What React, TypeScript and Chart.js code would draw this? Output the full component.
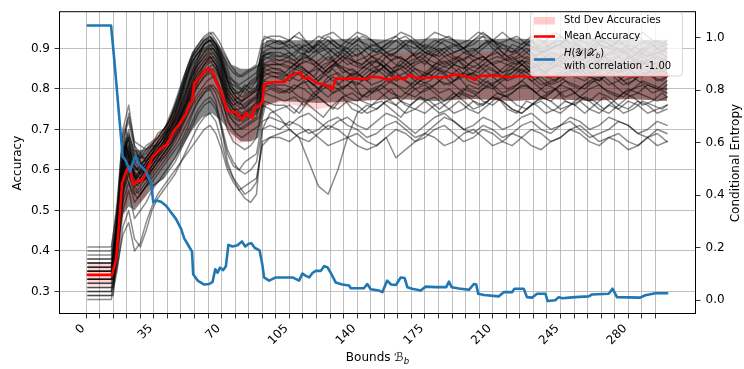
import React, { useEffect, useRef } from 'react';
import { Chart, registerables } from 'chart.js';
Chart.register(...registerables);

const FONT = "'DejaVu Sans', sans-serif";

// ---------- x positions (bounds) of the individual runs ----------
const RUN_X = [1, 13, 16, 19, 22, 25, 28, 31, 34, 37, 40, 43, 46, 49, 52, 55, 58, 61, 64, 67, 70, 73, 76, 79, 82, 85, 88, 91, 95,
  100, 105, 110, 115, 120, 125, 130, 135, 140, 145, 150, 155, 160, 165, 170, 175, 180, 185, 190, 195, 200,
  205, 210, 215, 220, 225, 230, 235, 240, 245, 250, 255, 260, 265, 270, 275, 280, 285, 290, 295, 300];
const RUN_XB = [1, 14, 17.5, 20.5, 23.5, 26.5, 29.5, 32.5, 35.5, 38.5, 41.5, 44.5, 47.5, 50.5, 53.5, 56.5, 59.5, 62.5, 65.5, 68.5,
  71.5, 74.5, 77.5, 80.5, 83.5, 86.5, 89.5, 92, 97.5, 102.5, 107.5, 112.5, 117.5, 122.5, 127.5, 132.5, 137.5, 142.5, 147.5, 152.5,
  157.5, 162.5, 167.5, 172.5, 177.5, 182.5, 187.5, 192.5, 197.5, 202.5, 207.5, 212.5, 217.5, 222.5, 227.5, 232.5, 237.5, 242.5, 247.5,
  252.5, 257.5, 262.5, 267.5, 272.5, 277.5, 282.5, 287.5, 292.5, 297.5, 300];

// ---------- individual run accuracies (percent), sampled at RUN_X ----------
const RUN_C01 = [34, 34, 45, 62, 66, 60, 61, 63, 65, 66, 68, 71, 74, 78, 83, 88, 90, 92, 93, 91, 88, 84, 80, 79, 81, 80, 82, 90, 91,
  92, 90, 91, 89, 92, 90, 88, 91, 93, 90, 89, 91, 92, 90, 88, 90, 92, 91, 89, 90, 92, 93, 90, 88, 91, 90, 92, 89, 90, 91, 93, 90, 89, 91, 90, 92, 90, 88, 90, 91, 90];
const RUN_C02 = [36, 36, 47, 65, 70, 63, 62, 60, 64, 67, 69, 70, 73, 76, 80, 85, 88, 91, 92, 90, 86, 80, 78, 76, 78, 79, 80, 88, 89,
  88, 89, 87, 90, 91, 89, 86, 88, 90, 87, 85, 88, 89, 91, 88, 86, 89, 90, 88, 87, 89, 91, 92, 89, 87, 88, 90, 89, 86, 88, 90, 91, 88, 87, 89, 90, 88, 86, 87, 89, 88];
const RUN_C03 = [33, 33, 42, 58, 63, 59, 58, 61, 63, 65, 66, 69, 72, 75, 79, 84, 87, 89, 90, 88, 84, 78, 76, 77, 75, 77, 78, 86, 87,
  86, 85, 87, 88, 86, 84, 87, 89, 86, 85, 84, 86, 88, 87, 85, 83, 86, 88, 86, 85, 87, 88, 86, 84, 86, 87, 85, 86, 88, 87, 85, 84, 86, 87, 85, 84, 86, 85, 87, 86, 85];
const RUN_C04 = [35, 35, 44, 60, 64, 58, 60, 62, 64, 64, 67, 70, 72, 74, 77, 82, 85, 87, 88, 86, 82, 76, 74, 73, 74, 75, 76, 84, 85,
  85, 83, 86, 84, 82, 85, 86, 84, 83, 85, 87, 85, 82, 83, 85, 84, 86, 87, 85, 83, 84, 86, 85, 83, 84, 86, 84, 85, 83, 84, 86, 85, 83, 82, 84, 86, 85, 83, 84, 85, 84];
const RUN_C05 = [38, 38, 50, 68, 72, 65, 63, 64, 66, 69, 70, 72, 75, 79, 85, 89, 91, 93, 94, 92, 89, 86, 84, 83, 84, 85, 86, 92, 93,
  93, 92, 94, 91, 93, 92, 90, 92, 94, 93, 91, 92, 93, 91, 90, 92, 94, 93, 92, 90, 91, 93, 92, 94, 92, 91, 93, 92, 90, 91, 93, 92, 91, 93, 92, 91, 92, 93, 91, 92, 91];
const RUN_C06 = [32, 32, 40, 55, 60, 56, 57, 58, 61, 63, 65, 67, 70, 73, 76, 80, 83, 86, 87, 85, 82, 77, 75, 74, 73, 74, 75, 82, 83,
  83, 82, 84, 82, 80, 83, 84, 82, 81, 83, 85, 83, 81, 80, 82, 84, 83, 81, 82, 84, 83, 81, 80, 82, 83, 85, 83, 81, 82, 83, 81, 80, 82, 83, 81, 82, 84, 82, 81, 80, 82];
const RUN_C07 = [34, 34, 46, 63, 68, 62, 64, 66, 67, 68, 70, 72, 76, 80, 84, 87, 89, 90, 91, 89, 85, 79, 77, 78, 80, 79, 80, 87, 88,
  87, 88, 86, 87, 89, 90, 88, 86, 87, 88, 90, 88, 86, 85, 87, 89, 88, 86, 87, 89, 90, 88, 86, 87, 88, 86, 85, 87, 89, 88, 86, 87, 88, 89, 87, 86, 88, 87, 86, 88, 87];
const RUN_C08 = [31, 31, 39, 54, 59, 54, 55, 57, 60, 62, 64, 66, 69, 72, 75, 79, 82, 84, 85, 83, 79, 74, 72, 71, 72, 73, 74, 80, 81,
  80, 79, 81, 82, 80, 78, 80, 81, 79, 78, 80, 82, 81, 79, 78, 80, 81, 83, 81, 79, 78, 80, 81, 79, 80, 82, 80, 78, 79, 81, 80, 78, 80, 81, 79, 78, 80, 79, 81, 80, 79];
const RUN_C09 = [37, 37, 48, 66, 74, 67, 66, 65, 66, 66, 68, 70, 73, 77, 82, 86, 88, 91, 92, 91, 88, 83, 82, 81, 82, 83, 84, 89, 90,
  90, 91, 89, 88, 90, 92, 90, 89, 91, 89, 87, 89, 90, 92, 91, 89, 88, 90, 91, 89, 88, 90, 92, 91, 89, 90, 88, 89, 91, 92, 90, 88, 89, 91, 90, 89, 91, 90, 88, 89, 90];
const RUN_C10 = [35, 35, 45, 61, 65, 61, 59, 60, 62, 64, 66, 69, 71, 74, 78, 83, 86, 88, 89, 87, 83, 78, 75, 75, 76, 77, 78, 85, 86,
  86, 87, 85, 84, 86, 88, 86, 85, 84, 86, 87, 85, 83, 84, 86, 87, 85, 84, 86, 85, 87, 88, 86, 84, 85, 87, 86, 84, 85, 86, 88, 86, 84, 85, 86, 84, 85, 87, 86, 84, 85];
const RUN_C11 = [33, 33, 43, 59, 62, 57, 60, 59, 61, 63, 66, 68, 71, 73, 77, 81, 84, 86, 88, 86, 81, 75, 73, 72, 74, 75, 77, 83, 84,
  84, 83, 82, 84, 85, 83, 81, 83, 84, 82, 84, 86, 84, 82, 81, 83, 85, 84, 82, 83, 84, 82, 81, 83, 85, 84, 82, 83, 81, 82, 84, 85, 83, 82, 84, 83, 81, 83, 84, 82, 83];
const RUN_C12 = [40, 40, 52, 69, 73, 66, 64, 62, 64, 65, 67, 71, 74, 78, 83, 87, 89, 91, 92, 90, 87, 82, 81, 80, 79, 81, 82, 88, 89,
  89, 88, 90, 91, 89, 87, 89, 90, 88, 90, 91, 89, 88, 87, 89, 91, 90, 88, 89, 90, 88, 87, 89, 91, 90, 88, 87, 89, 90, 91, 89, 88, 90, 89, 87, 88, 90, 89, 88, 90, 89];
const RUN_C13 = [30, 30, 38, 52, 57, 52, 54, 56, 59, 61, 63, 65, 68, 71, 74, 78, 81, 83, 84, 82, 78, 72, 70, 70, 71, 72, 73, 79, 80,
  79, 80, 78, 77, 79, 81, 80, 78, 77, 79, 80, 78, 76, 78, 80, 81, 79, 77, 78, 80, 79, 77, 76, 78, 79, 81, 80, 78, 77, 79, 80, 78, 77, 79, 78, 76, 78, 79, 78, 77, 78];
const RUN_C14 = [36, 36, 47, 64, 69, 64, 63, 63, 65, 67, 69, 72, 75, 79, 84, 88, 90, 92, 93, 91, 87, 82, 79, 79, 80, 82, 83, 91, 92,
  91, 92, 90, 89, 91, 93, 91, 90, 92, 91, 89, 90, 92, 93, 91, 89, 90, 92, 91, 90, 92, 94, 92, 90, 89, 91, 92, 90, 91, 93, 91, 89, 90, 92, 91, 90, 89, 91, 92, 90, 91];
const RUN_O01 = [29, 29, 37, 50, 55, 48, 50, 52, 55, 57, 59, 61, 63, 66, 69, 72, 75, 77, 78, 76, 71, 65, 62, 60, 62, 63, 64, 72, 73,
  72, 71, 73, 74, 72, 70, 72, 73, 71, 70, 72, 74, 73, 71, 69, 71, 73, 74, 72, 70, 71, 73, 72, 70, 71, 73, 74, 72, 70, 71, 73, 72, 70, 71, 73, 72, 71, 69, 70, 72, 71];
const RUN_O02 = [28, 28, 35, 46, 50, 43, 41, 45, 50, 53, 55, 57, 59, 62, 65, 68, 71, 73, 74, 72, 67, 61, 58, 56, 54, 55, 57, 67, 68,
  68, 67, 69, 70, 68, 66, 67, 68, 66, 65, 66, 68, 63, 65, 67, 69, 68, 66, 67, 69, 70, 68, 66, 67, 69, 68, 66, 65, 67, 68, 70, 69, 67, 66, 68, 67, 65, 66, 68, 66, 67];
const RUN_O03 = [41, 41, 50, 64, 68, 58, 57, 58, 60, 62, 63, 65, 67, 70, 73, 76, 78, 80, 81, 79, 75, 70, 67, 66, 65, 66, 68, 76, 75,
  73, 70, 68, 62, 56, 54, 60, 68, 74, 76, 75, 77, 76, 74, 75, 77, 78, 76, 74, 75, 77, 76, 78, 77, 75, 74, 76, 77, 75, 74, 76, 78, 77, 75, 74, 76, 75, 77, 76, 74, 75];
const RUN_O04 = [39, 39, 46, 58, 62, 55, 54, 56, 57, 59, 61, 63, 65, 67, 70, 74, 77, 79, 80, 77, 70, 62, 58, 55, 53, 52, 54, 70, 74,
  75, 76, 74, 77, 78, 76, 75, 77, 76, 74, 75, 77, 78, 76, 75, 74, 76, 77, 79, 77, 75, 76, 78, 77, 75, 74, 76, 78, 77, 75, 76, 77, 75, 74, 76, 75, 77, 76, 74, 75, 76];
const RUN_O05 = [34, 34, 50, 70, 76, 66, 62, 58, 56, 57, 58, 60, 62, 65, 68, 71, 74, 76, 77, 75, 70, 64, 61, 60, 59, 60, 62, 70, 71,
  70, 72, 71, 69, 70, 72, 73, 71, 70, 68, 69, 71, 72, 70, 68, 69, 71, 73, 72, 70, 69, 71, 70, 68, 69, 71, 72, 70, 69, 71, 72, 70, 68, 69, 70, 72, 71, 69, 68, 70, 69];
const RUN_O06 = [30, 30, 36, 44, 47, 40, 42, 47, 51, 54, 56, 58, 60, 62, 64, 66, 68, 70, 71, 69, 65, 60, 57, 55, 56, 57, 58, 66, 68,
  69, 70, 68, 67, 69, 71, 70, 68, 69, 67, 66, 68, 70, 69, 67, 68, 70, 71, 69, 67, 68, 70, 69, 67, 66, 68, 70, 69, 67, 68, 70, 71, 69, 67, 68, 69, 67, 66, 68, 69, 67];

// ---------- individual run accuracies (percent), sampled at RUN_XB ----------
const RUN_B01 = [35, 35, 58, 70, 64, 62, 64, 66, 67, 69, 71, 74, 78, 83, 87, 90, 92, 93, 94, 92, 89, 86, 84, 83, 84, 85, 86, 93, 92,
  91, 93, 92, 90, 93, 94, 92, 91, 93, 92, 90, 92, 94, 93, 91, 90, 92, 93, 91, 92, 94, 93, 91, 92, 93, 91, 90, 92, 94, 92, 91, 93, 92, 90, 91, 93, 92, 94, 92, 91, 92];
const RUN_B02 = [37, 37, 55, 67, 62, 60, 62, 64, 66, 67, 70, 72, 76, 81, 85, 88, 90, 92, 92, 90, 87, 83, 81, 80, 81, 82, 83, 91, 90,
  90, 88, 91, 89, 90, 92, 90, 88, 89, 91, 90, 88, 90, 92, 91, 89, 88, 90, 91, 89, 90, 92, 90, 88, 89, 91, 90, 89, 91, 90, 88, 89, 91, 92, 90, 89, 88, 90, 91, 89, 90];
const RUN_B03 = [33, 33, 52, 65, 60, 59, 60, 62, 64, 66, 68, 71, 74, 79, 83, 86, 89, 90, 91, 89, 85, 81, 79, 78, 79, 80, 81, 89, 88,
  88, 87, 89, 86, 88, 90, 88, 87, 86, 88, 89, 87, 88, 86, 87, 89, 90, 88, 87, 88, 86, 88, 89, 87, 88, 90, 88, 86, 87, 89, 88, 87, 86, 88, 89, 87, 88, 90, 88, 87, 88];
const RUN_B04 = [36, 36, 54, 66, 61, 58, 61, 63, 65, 66, 68, 70, 73, 77, 82, 85, 88, 90, 90, 88, 84, 80, 78, 77, 78, 79, 80, 88, 87,
  87, 86, 88, 87, 85, 87, 89, 87, 86, 88, 87, 85, 86, 88, 89, 87, 86, 87, 88, 86, 85, 87, 88, 87, 86, 88, 87, 85, 87, 89, 87, 86, 88, 87, 86, 85, 87, 88, 86, 87, 87];
const RUN_B05 = [32, 32, 50, 63, 60, 57, 59, 61, 63, 65, 67, 69, 72, 76, 80, 84, 86, 88, 89, 87, 83, 79, 77, 76, 77, 78, 79, 86, 86,
  86, 85, 87, 86, 84, 86, 88, 86, 85, 87, 86, 84, 85, 87, 88, 86, 85, 86, 87, 85, 84, 86, 87, 86, 85, 87, 86, 84, 86, 88, 86, 85, 87, 86, 85, 84, 86, 87, 85, 86, 86];
const RUN_B06 = [38, 38, 56, 68, 63, 61, 62, 63, 65, 67, 69, 71, 74, 78, 82, 85, 87, 89, 90, 88, 84, 80, 78, 77, 78, 79, 80, 86, 85,
  84, 86, 85, 83, 86, 87, 84, 85, 83, 85, 86, 84, 87, 85, 83, 84, 86, 85, 87, 84, 83, 85, 84, 86, 87, 85, 83, 84, 86, 85, 84, 86, 83, 85, 87, 86, 84, 83, 85, 84, 85];
const RUN_B07 = [34, 34, 51, 64, 59, 58, 60, 62, 64, 65, 67, 69, 72, 75, 79, 83, 85, 87, 88, 86, 82, 78, 76, 75, 76, 77, 78, 85, 84,
  83, 85, 84, 82, 84, 86, 85, 83, 82, 84, 85, 83, 86, 84, 82, 83, 85, 84, 83, 85, 86, 84, 82, 83, 85, 84, 86, 83, 82, 84, 85, 83, 84, 86, 84, 82, 83, 85, 84, 83, 84];
const RUN_B08 = [35, 35, 53, 66, 60, 57, 59, 61, 63, 64, 66, 68, 71, 74, 78, 82, 84, 86, 87, 85, 81, 77, 75, 74, 75, 76, 77, 84, 83,
  82, 84, 83, 81, 83, 85, 82, 84, 83, 81, 82, 84, 85, 83, 81, 82, 84, 83, 85, 82, 81, 83, 84, 82, 83, 85, 83, 81, 82, 84, 83, 82, 84, 85, 83, 81, 82, 84, 83, 82, 83];
const RUN_B09 = [31, 31, 48, 61, 57, 55, 57, 59, 61, 63, 65, 67, 70, 73, 77, 80, 82, 84, 85, 83, 79, 75, 73, 72, 73, 74, 75, 82, 81,
  81, 80, 82, 79, 81, 83, 80, 82, 81, 79, 80, 82, 83, 81, 79, 80, 82, 81, 83, 80, 79, 81, 82, 80, 81, 83, 81, 79, 80, 82, 81, 80, 82, 83, 81, 79, 80, 82, 81, 80, 81];
const RUN_B10 = [37, 37, 54, 66, 62, 60, 61, 62, 63, 65, 67, 69, 72, 75, 78, 81, 83, 85, 86, 84, 80, 76, 74, 73, 74, 75, 76, 81, 80,
  79, 81, 80, 78, 81, 79, 80, 82, 78, 80, 81, 79, 78, 80, 82, 81, 79, 80, 78, 81, 80, 82, 79, 78, 80, 81, 79, 81, 80, 78, 79, 81, 82, 80, 79, 78, 80, 81, 79, 80, 80];
const RUN_B11 = [33, 33, 50, 62, 58, 56, 58, 60, 62, 63, 65, 67, 69, 72, 75, 78, 80, 82, 83, 81, 77, 73, 71, 70, 71, 72, 73, 79, 78,
  77, 78, 76, 79, 77, 75, 78, 79, 77, 76, 78, 80, 77, 76, 78, 77, 75, 77, 79, 78, 76, 77, 79, 78, 76, 75, 77, 78, 80, 77, 76, 78, 77, 75, 77, 79, 78, 76, 77, 79, 78];
const RUN_B12 = [29, 29, 46, 59, 55, 53, 55, 57, 59, 61, 63, 65, 67, 70, 73, 76, 78, 80, 81, 79, 75, 71, 69, 68, 69, 70, 71, 77, 76,
  76, 74, 77, 75, 73, 76, 78, 75, 74, 76, 77, 75, 73, 76, 78, 76, 74, 75, 77, 75, 74, 76, 78, 75, 74, 77, 76, 74, 75, 77, 76, 74, 76, 78, 76, 74, 75, 77, 76, 75, 76];

const RUNS_A = [RUN_C01, RUN_C02, RUN_C03, RUN_C04, RUN_C05, RUN_C06, RUN_C07, RUN_C08, RUN_C09, RUN_C10, RUN_C11, RUN_C12, RUN_C13, RUN_C14,
  RUN_O01, RUN_O02, RUN_O03, RUN_O04, RUN_O05, RUN_O06];
const RUNS_B = [RUN_B01, RUN_B02, RUN_B03, RUN_B04, RUN_B05, RUN_B06, RUN_B07, RUN_B08, RUN_B09, RUN_B10, RUN_B11, RUN_B12];

// ---------- envelope where the many runs overlap densely ----------
const CORE_X = [13, 15, 17, 19, 22, 25, 30, 35, 40, 45, 50, 55, 60, 65, 70, 75, 80, 85, 89, 91, 93, 100, 120, 140, 160, 180, 200, 220, 240, 260, 280, 300];
const CORE_LO = [0.34, 0.37, 0.43, 0.49, 0.51, 0.5, 0.53, 0.56, 0.58, 0.62, 0.66, 0.70, 0.73, 0.74, 0.72, 0.69, 0.67, 0.67, 0.68, 0.72,
  0.76, 0.77, 0.765, 0.77, 0.775, 0.77, 0.775, 0.77, 0.775, 0.77, 0.775, 0.77];
const CORE_HI = [0.36, 0.42, 0.55, 0.65, 0.69, 0.65, 0.65, 0.67, 0.7, 0.76, 0.83, 0.89, 0.92, 0.93, 0.9, 0.86, 0.85, 0.85, 0.86, 0.88,
  0.92, 0.92, 0.92, 0.925, 0.92, 0.925, 0.92, 0.925, 0.92, 0.925, 0.92, 0.92];

// ---------- mean accuracy ----------
const MEAN_X = [1, 13.4, 15.5, 16.8, 18.6, 20.3, 21.5, 22.7, 23.7, 24.5, 26.1, 27.1, 28.4, 29.6, 30.9, 32.3, 34.3, 36.1, 37.8, 39.5,
  41.3, 43.8, 45.5, 48.1, 49.8, 51.6, 53.3, 54.7, 55.9, 57.6, 60.1, 61.9, 62.7, 65.3, 67.0, 69.6, 71.3, 73.0, 75.6, 77.4,
  80.5, 82.8, 84.2, 85.9, 86.8, 89.4, 91.1, 92.0, 94.5, 99.7, 102.3, 104.9, 108.3, 110.9, 111.7, 113.5, 115.2, 116.8, 119.4, 122.0,
  125.5, 127.2, 128.9, 132.3, 135.8, 141, 144.4, 147, 151.3, 156.4, 161.6, 164.2, 166.7, 170.2, 173.6, 180.5, 185.7, 190.8, 194.3, 197.7,
  200.8, 202.8, 211.5, 218.3, 225.2, 228.6, 235, 240, 250, 260, 270, 280, 290, 300];
const MEAN_Y = [0.341, 0.341, 0.38, 0.455, 0.568, 0.592, 0.605, 0.608, 0.576, 0.564, 0.572, 0.574, 0.572, 0.58, 0.592, 0.609, 0.633, 0.64, 0.649, 0.657,
  0.661, 0.681, 0.697, 0.713, 0.725, 0.738, 0.762, 0.77, 0.814, 0.822, 0.838, 0.846, 0.849, 0.842, 0.818, 0.794, 0.77, 0.745, 0.743, 0.743,
  0.725, 0.741, 0.733, 0.729, 0.754, 0.758, 0.77, 0.81, 0.816, 0.817, 0.817, 0.83, 0.838, 0.84, 0.828, 0.826, 0.829, 0.822, 0.814, 0.812,
  0.806, 0.798, 0.826, 0.824, 0.826, 0.825, 0.824, 0.83, 0.829, 0.822, 0.83, 0.822, 0.834, 0.828, 0.827, 0.829, 0.829, 0.836, 0.833, 0.829,
  0.822, 0.832, 0.833, 0.829, 0.832, 0.829, 0.835, 0.831, 0.834, 0.833, 0.835, 0.832, 0.834, 0.833];

// ---------- std dev band ----------
const BAND_X = [1, 13, 16, 19, 22, 25, 28, 31, 34, 37, 40, 43, 46, 49, 52, 55, 58, 61, 64, 67, 70, 73, 76, 79, 82, 85, 88, 91, 95,
  100, 120, 140, 160, 180, 200, 220, 240, 260, 280, 300];
const BAND_LO = [0.315, 0.315, 0.35, 0.47, 0.53, 0.51, 0.52, 0.535, 0.575, 0.6, 0.61, 0.635, 0.66, 0.68, 0.7, 0.75, 0.77, 0.79, 0.8, 0.77,
  0.74, 0.69, 0.675, 0.665, 0.67, 0.67, 0.69, 0.755, 0.76, 0.765, 0.75, 0.77, 0.775, 0.775, 0.775, 0.77, 0.775, 0.77, 0.775, 0.77];
const BAND_HI = [0.37, 0.37, 0.45, 0.59, 0.65, 0.63, 0.63, 0.635, 0.675, 0.69, 0.7, 0.725, 0.75, 0.77, 0.8, 0.85, 0.87, 0.89, 0.895, 0.87,
  0.84, 0.8, 0.795, 0.785, 0.79, 0.79, 0.81, 0.865, 0.87, 0.875, 0.875, 0.885, 0.89, 0.89, 0.89, 0.895, 0.89, 0.895, 0.89, 0.895];

// ---------- conditional entropy ----------
const ENT_X = [1, 12.9, 14.5, 16.5, 18.9, 20.6, 22.7, 24.0, 25.4, 27.1, 29.2, 30.9, 33.5, 34.7, 36.4, 38.7, 41.3, 43.8, 46.4, 49.0,
  50.7, 53.6, 54.7, 55.3, 57.6, 61.0, 63.6, 65.3, 66.7, 67.9, 69.1, 70.8, 72.2, 73.5, 75.6, 78.2, 80.5, 82.2, 84.0, 85.4,
  87.0, 89.6, 91.0, 91.9, 94.5, 98, 106.6, 110, 111.7, 113.5, 115.2, 116.9, 118.6, 121.2, 122.9, 124.6, 126.4, 128.9, 132.3, 135.8,
  136.7, 143.5, 145.2, 147, 151.3, 153, 155.5, 157.5, 160, 162.5, 164.5, 165.9, 168.4, 172.8, 175.4, 180.5, 186, 187.4, 188.8, 192.6,
  197.7, 200.3, 201.5, 202.5, 205.5, 213.2, 215.7, 220, 221.2, 226, 227.7, 230.3, 232.9, 237.2, 238.4, 242.3, 244.1, 246, 249.5, 252.7,
  259.5, 261.3, 269.9, 271.9, 274.2, 286.2, 288.8, 294, 300];
const ENT_Y = [1.046, 1.046, 0.92, 0.75, 0.547, 0.53, 0.49, 0.52, 0.549, 0.52, 0.505, 0.49, 0.447, 0.373, 0.38, 0.375, 0.36, 0.335, 0.31, 0.273,
  0.236, 0.199, 0.186, 0.099, 0.075, 0.06, 0.062, 0.07, 0.118, 0.105, 0.124, 0.115, 0.13, 0.211, 0.205, 0.21, 0.224, 0.205, 0.215, 0.217,
  0.2, 0.19, 0.137, 0.087, 0.075, 0.087, 0.087, 0.075, 0.102, 0.093, 0.087, 0.104, 0.112, 0.112, 0.13, 0.126, 0.104, 0.068, 0.06, 0.056,
  0.046, 0.046, 0.062, 0.042, 0.037, 0.031, 0.075, 0.06, 0.058, 0.087, 0.085, 0.05, 0.044, 0.037, 0.052, 0.05, 0.05, 0.071, 0.05, 0.045,
  0.04, 0.062, 0.06, 0.025, 0.02, 0.015, 0.031, 0.031, 0.044, 0.044, 0.012, 0.01, 0.025, 0.025, -0.003, 0.0, 0.012, 0.008, 0.01, 0.012,
  0.015, 0.022, 0.025, 0.044, 0.012, 0.01, 0.019, 0.027, 0.027];

// ---------- ticks & labels ----------
const X_TICKS = [0, 7, 14, 21, 28, 35, 42, 49, 56, 63, 70, 77, 84, 91, 98, 105, 112, 119, 126, 133, 140, 147, 154, 161, 168, 175,
  182, 189, 196, 203, 210, 217, 224, 231, 238, 245, 252, 259, 266, 273, 280, 287, 294];
const X_LABELED = [0, 35, 70, 105, 140, 175, 210, 245, 280];
const ACC_TICKS = [0.3, 0.4, 0.5, 0.6, 0.7, 0.8, 0.9];
const ENT_TICKS = [0.0, 0.2, 0.4, 0.6, 0.8, 1.0];
const LEGEND_LABELS = ['Std Dev Accuracies', 'Mean Accuracy', 'with correlation -1.00'];
const Y_TITLE = 'Accuracy';
const Y2_TITLE = 'Conditional Entropy';
const X_TITLE = 'Bounds ';

type Part = { t: string; f: string; dy?: number };

function drawRich(ctx: CanvasRenderingContext2D, parts: Part[], x: number, y: number, align: 'left' | 'center') {
  let total = 0;
  const widths = parts.map(p => { ctx.font = p.f; const w = ctx.measureText(p.t).width; total += w; return w; });
  let cx = align === 'center' ? x - total / 2 : x;
  ctx.textAlign = 'left';
  ctx.textBaseline = 'alphabetic';
  parts.forEach((p, i) => { ctx.font = p.f; ctx.fillText(p.t, cx, y + (p.dy || 0)); cx += widths[i]; });
}

const decorPlugin = {
  id: 'mplDecor',
  afterDatasetsDraw(chart: any) {
    const { ctx, chartArea: a } = chart;
    ctx.save();
    ctx.strokeStyle = '#000';
    ctx.lineWidth = 1;
    ctx.strokeRect(a.left + 0.5, a.top - 0.5, a.right - a.left - 1, a.bottom - a.top);
    ctx.restore();
  },
  afterDraw(chart: any) {
    const { ctx, chartArea: a } = chart;
    ctx.save();
    ctx.fillStyle = '#000';
    ctx.font = `12px ${FONT}`;
    ctx.textAlign = 'center';
    ctx.textBaseline = 'middle';
    const cy = (a.top + a.bottom) / 2;
    ctx.save(); ctx.translate(18, cy); ctx.rotate(-Math.PI / 2); ctx.fillText(Y_TITLE, 0, 0); ctx.restore();
    ctx.save(); ctx.translate(736, cy); ctx.rotate(-Math.PI / 2); ctx.fillText(Y2_TITLE, 0, 0); ctx.restore();
    drawRich(ctx, [
      { t: X_TITLE, f: `12px ${FONT}` },
      { t: 'ℬ', f: `italic 12px ${FONT}` },
      { t: 'b', f: `italic 8.5px ${FONT}`, dy: 2.5 },
    ], (a.left + a.right) / 2, 361, 'center');

    // legend
    const bx = 530.5, by = 12.5, bw = 152, bh = 63.5;
    ctx.beginPath();
    (ctx as any).roundRect(bx, by, bw, bh, 3);
    ctx.fillStyle = 'rgba(255,255,255,0.8)';
    ctx.fill();
    ctx.strokeStyle = 'rgba(204,204,204,0.8)';
    ctx.lineWidth = 1;
    ctx.stroke();
    ctx.fillStyle = 'rgba(255,0,0,0.2)';
    ctx.fillRect(534, 17, 21, 7.5);
    ctx.lineWidth = 2.6;
    ctx.strokeStyle = '#ff0000';
    ctx.beginPath(); ctx.moveTo(534, 36.5); ctx.lineTo(555, 36.5); ctx.stroke();
    ctx.strokeStyle = '#1f77b4';
    ctx.beginPath(); ctx.moveTo(534, 59.5); ctx.lineTo(555, 59.5); ctx.stroke();
    ctx.fillStyle = '#000';
    ctx.font = `10px ${FONT}`;
    ctx.textAlign = 'left';
    ctx.textBaseline = 'middle';
    ctx.fillText(LEGEND_LABELS[0], 564, 20.5);
    ctx.fillText(LEGEND_LABELS[1], 564, 36.5);
    drawRich(ctx, [
      { t: 'H', f: `italic 10px ${FONT}` },
      { t: '(', f: `10px ${FONT}` },
      { t: '𝒴', f: `10px ${FONT}` },
      { t: '|', f: `10px ${FONT}` },
      { t: '𝒳', f: `10px ${FONT}` },
      { t: 'b', f: `italic 7px ${FONT}`, dy: 2 },
      { t: ')', f: `10px ${FONT}` },
    ], 564, 56, 'left');
    ctx.textBaseline = 'middle';
    ctx.font = `10px ${FONT}`;
    ctx.fillText(LEGEND_LABELS[2], 564, 66.5);
    ctx.restore();
  },
};

const toPts = (xs: number[], ys: number[], k = 1) => xs.map((x, i) => ({ x, y: ys[i] * k }));

export default function App() {
  const ref = useRef<HTMLCanvasElement>(null);
  useEffect(() => {
    const common = { pointRadius: 0, tension: 0, borderCapStyle: 'square', borderJoinStyle: 'round', fill: false };
    const runStyle = { borderColor: 'rgba(0,0,0,0.45)', borderWidth: 1.5, order: 3, yAxisID: 'y' };
    const datasets: any[] = [
      { ...common, label: 'ent', data: toPts(ENT_X, ENT_Y), yAxisID: 'y2', borderColor: '#1f77b4', borderWidth: 2.6, order: 0 },
      { ...common, label: 'mean', data: toPts(MEAN_X, MEAN_Y), yAxisID: 'y', borderColor: '#ff0000', borderWidth: 2.6, order: 1 },
      { ...common, label: 'lo', data: toPts(BAND_X, BAND_LO), yAxisID: 'y', borderColor: 'rgba(0,0,0,0)', borderWidth: 1, order: 3.5 },
      { ...common, label: 'hi', data: toPts(BAND_X, BAND_HI), yAxisID: 'y', borderColor: 'rgba(0,0,0,0)', borderWidth: 1, fill: '-1', backgroundColor: 'rgba(255,0,0,0.16)', order: 3.5 },
      ...RUNS_A.map((r, j) => ({ ...common, ...runStyle, label: 'a' + j, data: toPts(RUN_X, r, 0.01) })),
      ...RUNS_B.map((r, j) => ({ ...common, ...runStyle, label: 'b' + j, data: toPts(RUN_XB, r, 0.01) })),
      { ...common, label: 'coreLo', data: toPts(CORE_X, CORE_LO), yAxisID: 'y', borderColor: 'rgba(0,0,0,0)', borderWidth: 1, order: 4 },
      { ...common, label: 'coreHi', data: toPts(CORE_X, CORE_HI), yAxisID: 'y', borderColor: 'rgba(0,0,0,0)', borderWidth: 1, fill: '-1', backgroundColor: 'rgba(0,0,0,0.48)', order: 4 },
    ];
    const tickFont = { family: FONT, size: 12 };
    const chart = new Chart(ref.current!, {
      type: 'line',
      data: { datasets },
      plugins: [decorPlugin],
      options: {
        responsive: false,
        devicePixelRatio: 1,
        animation: false,
        events: [],
        layout: { padding: { top: 6, left: 0, right: 0, bottom: 0 } },
        plugins: { legend: { display: false }, tooltip: { enabled: false }, filler: { drawTime: 'beforeDatasetDraw' } } as any,
        scales: {
          x: {
            type: 'linear', min: -14, max: 315,
            afterBuildTicks: (s: any) => { s.ticks = X_TICKS.map(v => ({ value: v })); },
            afterFit: (s: any) => { s.height = 55; },
            grid: { color: '#b0b0b0', lineWidth: 0.8, tickLength: 4.5, tickColor: '#000', tickWidth: 0.8 } as any,
            border: { display: false },
            ticks: {
              autoSkip: false, minRotation: 45, maxRotation: 45, padding: 3, labelOffset: -3, color: '#000', font: tickFont,
              callback: (v: any) => (X_LABELED.includes(v) ? String(v) : ''),
            },
          },
          y: {
            type: 'linear', position: 'left', min: 0.2444, max: 0.9894,
            afterBuildTicks: (s: any) => { s.ticks = ACC_TICKS.map(v => ({ value: v })); },
            afterFit: (s: any) => { s.width = 59; },
            grid: { color: '#b0b0b0', lineWidth: 0.8, tickLength: 4.5, tickColor: '#000', tickWidth: 0.8 } as any,
            border: { display: false },
            ticks: { padding: 4.5, color: '#000', font: tickFont, callback: (v: any) => Number(v).toFixed(1) },
          },
          y2: {
            type: 'linear', position: 'right', min: -0.0522, max: 1.0969,
            afterBuildTicks: (s: any) => { s.ticks = ENT_TICKS.map(v => ({ value: v })); },
            afterFit: (s: any) => { s.width = 48; },
            grid: { drawOnChartArea: false, tickLength: 4.5, tickColor: '#000', tickWidth: 0.8 } as any,
            border: { display: false },
            ticks: { padding: 5, color: '#000', font: tickFont, callback: (v: any) => Number(v).toFixed(1) },
          },
        },
      } as any,
    });
    return () => chart.destroy();
  }, []);
  return (
    <div style={{ position: 'absolute', left: 0, top: 0, width: 744, height: 369, background: '#fff' }}>
      <canvas ref={ref} width={744} height={369} style={{ display: 'block', width: 744, height: 369 }} />
    </div>
  );
}
